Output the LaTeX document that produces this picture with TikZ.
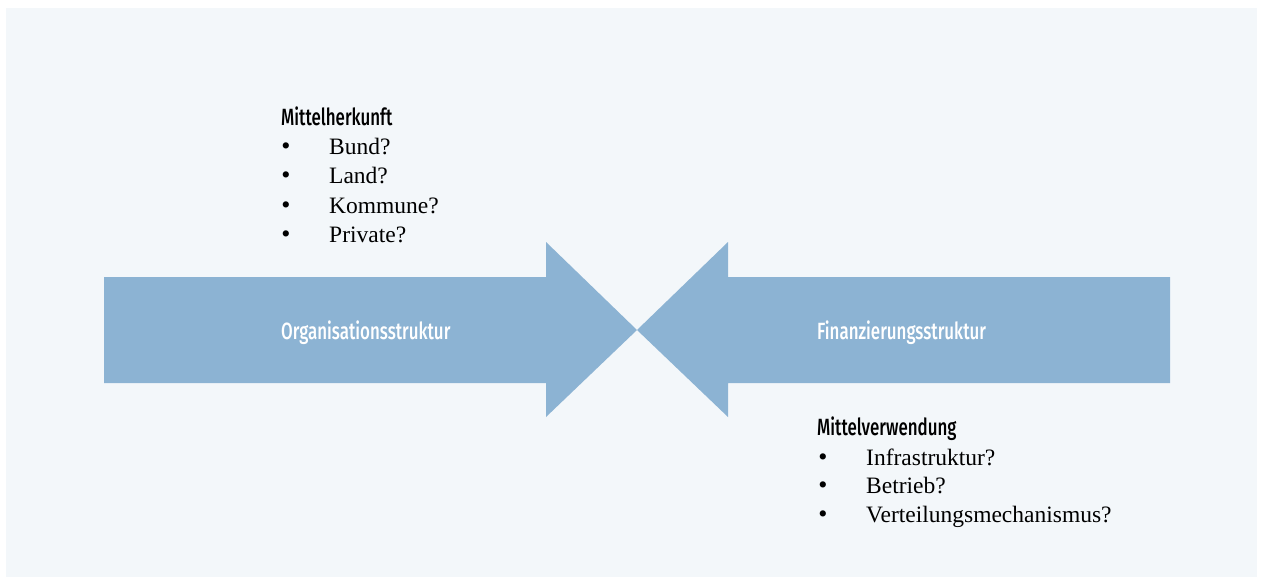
\documentclass[tikz,border=0pt]{standalone}
\usepackage{fontspec}
\setmainfont{Liberation Serif}
\newfontfamily\headfont[FakeStretch=0.72]{Fira Sans Medium}
\definecolor{arrowblue}{HTML}{8CB3D3}
\definecolor{paper}{HTML}{F3F7FA}
\begin{document}
\begin{tikzpicture}[x=1pt,y=-1pt,
  head/.style={anchor=base west,inner sep=0pt,font=\headfont\fontsize{23.5}{23.5}\selectfont},
  item/.style={anchor=base west,inner sep=0pt,font=\fontsize{23.5}{23.5}\selectfont},
  dot/.style={anchor=base,inner sep=0pt,font=\fontsize{26}{26}\selectfont}]
\useasboundingbox (0,0) rectangle (1263,579);
\fill[paper] (6,8) rectangle (1257,577);

% the two arrows
\fill[arrowblue] (104,277) -- (546,277) -- (546,242) -- (637,330) -- (546,417) -- (546,383) -- (104,383) -- cycle;
\fill[arrowblue] (1170,277) -- (728,277) -- (728,242) -- (637,330) -- (728,417) -- (728,383) -- (1170,383) -- cycle;
\node[head,text=white] (orga) at (281,339) {Organisationsstruktur};
\node[head,text=white] (finanz) at (817,339) {Finanzierungsstruktur};

% Mittelherkunft
\node[head] (herkunft) at (281,125) {Mittelherkunft};
\node[dot] (b1) at (286,154) {\textbullet};
\node[item] (bund) at (329,154) {Bund?};
\node[dot] (b2) at (286,183) {\textbullet};
\node[item] (land) at (329,183) {Land?};
\node[dot] (b3) at (286,213) {\textbullet};
\node[item] (kommune) at (329,213) {Kommune?};
\node[dot] (b4) at (286,242) {\textbullet};
\node[item] (private) at (329,242) {Private?};

% Mittelverwendung
\node[head] (verwendung) at (817,435) {Mittelverwendung};
\node[dot] (c1) at (823,465) {\textbullet};
\node[item] (infra) at (866,465) {Infrastruktur?};
\node[dot] (c2) at (823,493) {\textbullet};
\node[item] (betrieb) at (866,493) {Betrieb?};
\node[dot] (c3) at (823,522) {\textbullet};
\node[item] (verteilung) at (866,522) {Verteilungsmechanismus?};
\end{tikzpicture}
\end{document}
